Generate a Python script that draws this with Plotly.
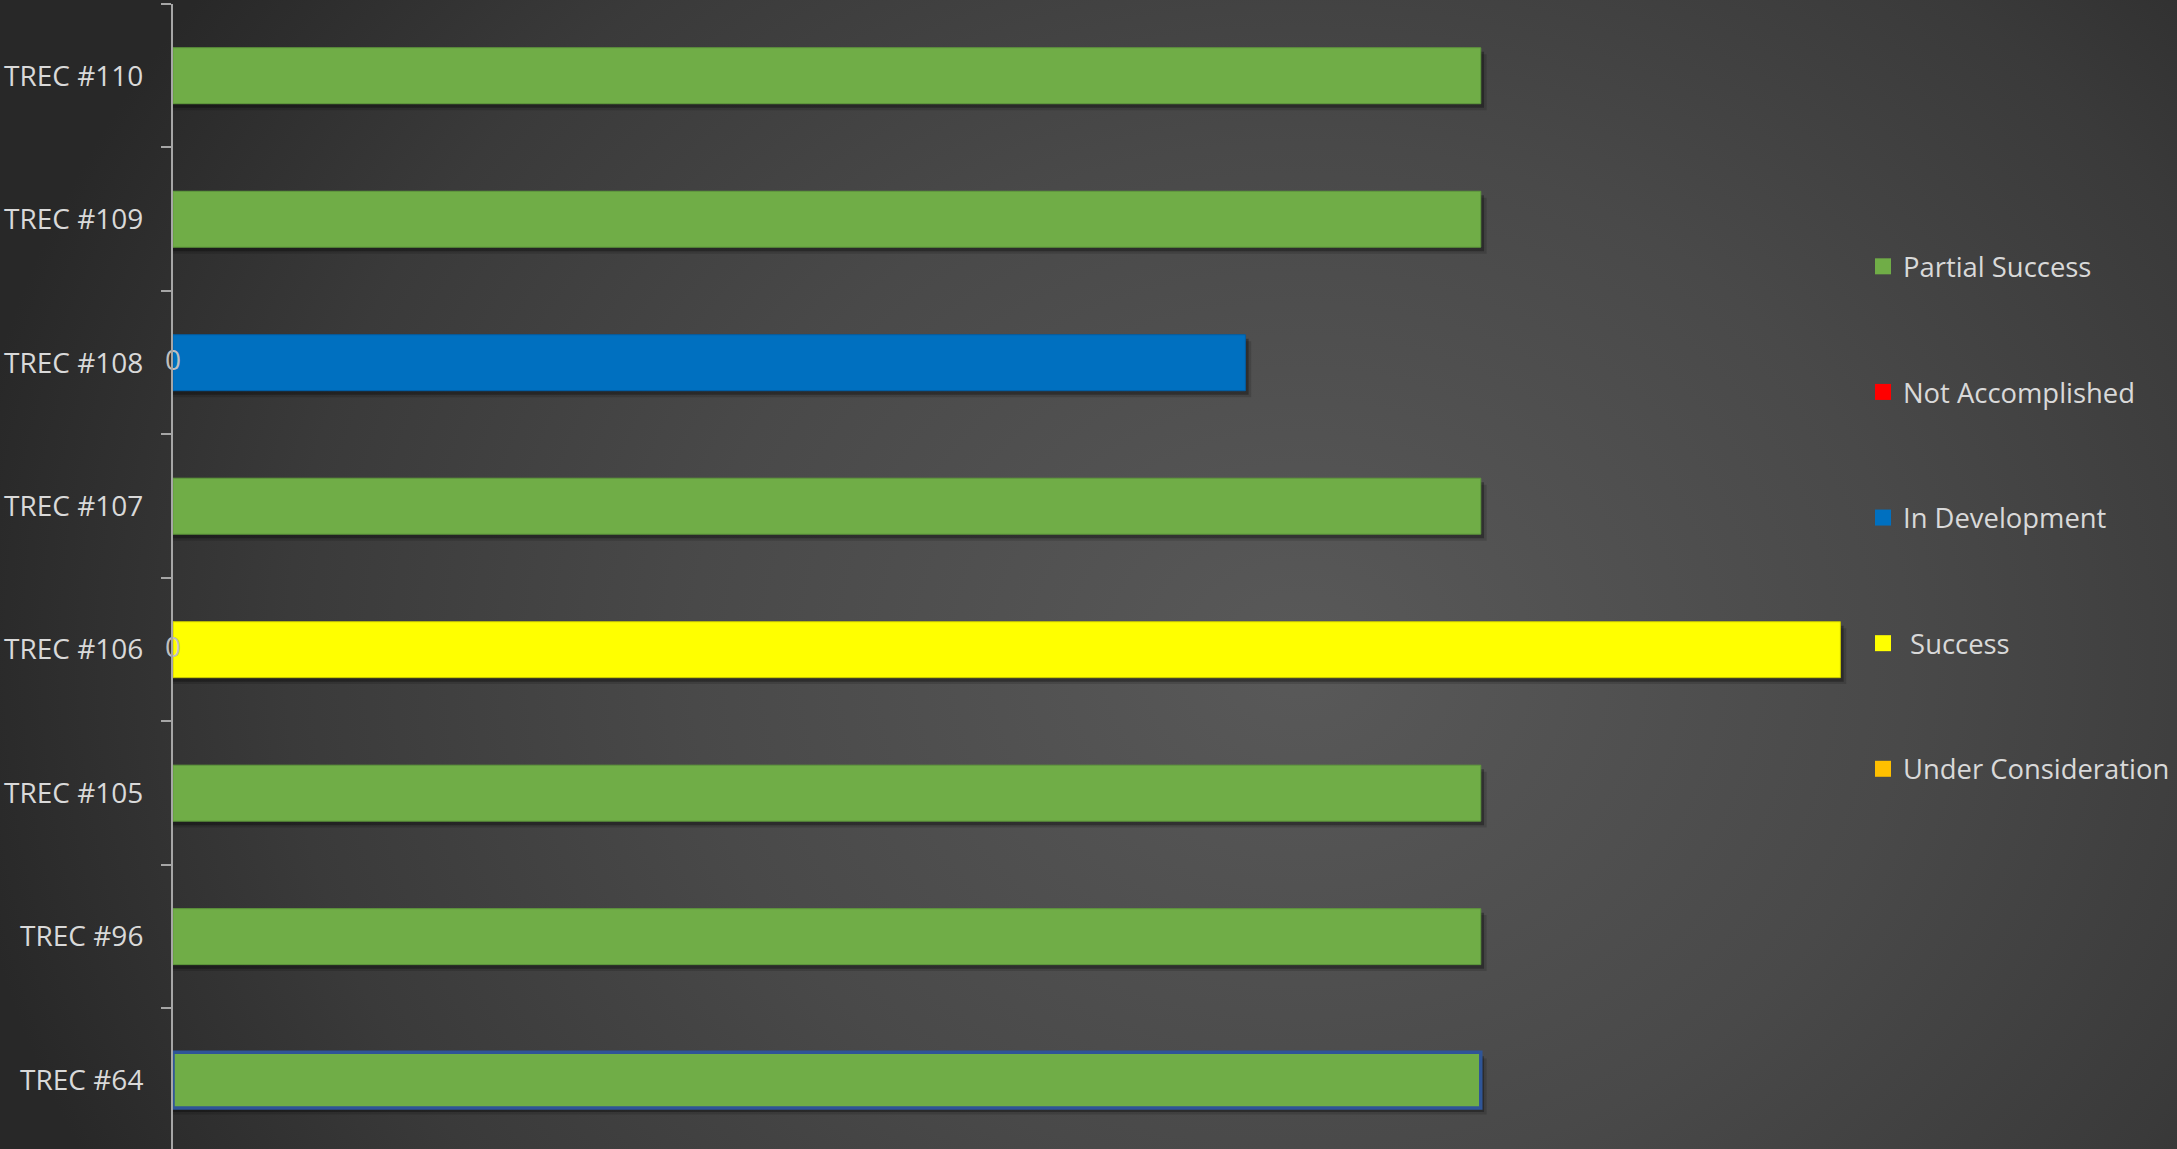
import base64
import plotly.graph_objects as go

# ---------------- data ----------------
categories = ["TREC #110", "TREC #109", "TREC #108", "TREC #107",
              "TREC #106", "TREC #105", "TREC #96", "TREC #64"]

partial_success = [100, 100, None, 100, None, 100, 100, 100]
not_accomplished = [None, None, 0, None, 0, None, None, None]
in_development = [None, None, 82, None, None, None, None, None]
success = [None, None, None, None, 127.5, None, None, None]
under_consideration = [None, None, None, None, None, None, None, None]

series_names = ["Partial Success", "Not Accomplished", "In Development",
                " Success", "Under Consideration"]
series_colors = ["#70ad47", "#ff0000", "#0070c0", "#ffff00", "#ffc000"]

# ---------------- layout constants ----------------
W, H = 2177, 1149
ML, MR, MT, MB = 173, 317, 4, 0
PW = W - ML - MR
PH = H - MT - MB
FONT = "Open Sans, Noto Sans, DejaVu Sans, sans-serif"
TXT = "#d9d9d9"
BAR_W = 0.39

svg = f'''<svg xmlns="http://www.w3.org/2000/svg" width="{W}" height="{H}" viewBox="0 0 {W} {H}" preserveAspectRatio="none">
<defs><radialGradient id="g" gradientUnits="userSpaceOnUse" cx="1300" cy="660" r="1350"
 gradientTransform="translate(1300 660) scale(1 0.85) translate(-1300 -660)">
<stop offset="0" stop-color="#595959"/>
<stop offset="0.45" stop-color="#494949"/>
<stop offset="0.75" stop-color="#3a3a3a"/>
<stop offset="1" stop-color="#282828"/>
</radialGradient></defs>
<rect width="{W}" height="{H}" fill="url(#g)"/></svg>'''
bg_uri = "data:image/svg+xml;base64," + base64.b64encode(svg.encode()).decode()

fig = go.Figure()

bar_series = [partial_success, in_development, success]

# soft drop shadows (style layers derived from the same values)
for shift, extra, alpha in [(0.045, 0.45, 0.14), (0.028, 0.25, 0.30)]:
    for vals in bar_series:
        fig.add_trace(go.Bar(
            y=categories, x=[None if v is None else v + extra for v in vals],
            orientation="h", width=BAR_W, offset=-BAR_W / 2 + shift,
            marker=dict(color=f"rgba(0,0,0,{alpha})", line=dict(width=0)),
            showlegend=False, hoverinfo="skip"))

# bars
green_line_colors = ["#5f9a3c"] * 7 + ["#2f5597"]
green_line_widths = [1] * 7 + [3.5]
bar_specs = [
    (partial_success, series_colors[0], dict(color=green_line_colors, width=green_line_widths)),
    (in_development, series_colors[2], dict(color="#005ea6", width=1)),
    (success, series_colors[3], dict(color="#c9c900", width=1)),
]
for vals, col, line in bar_specs:
    fig.add_trace(go.Bar(
        y=categories, x=vals, orientation="h", width=BAR_W,
        marker=dict(color=col, line=line), showlegend=False, hoverinfo="skip"))

# zero-value data labels
zero_y = [c for c, v in zip(categories, not_accomplished) if v is not None]
zero_x = [v for v in not_accomplished if v is not None]
fig.add_trace(go.Scatter(
    y=zero_y, x=zero_x, mode="text", text=[str(v) for v in zero_x],
    textposition="middle center", textfont=dict(family=FONT, size=28, color="#bfbfbf"),
    showlegend=False, hoverinfo="skip", cliponaxis=False))

# legend entries
for i, (name, col) in enumerate(zip(series_names, series_colors)):
    fig.add_trace(go.Scatter(
        x=[None], y=[None], mode="markers", name=name, legendgroup=f"g{i}",
        marker=dict(symbol="square", size=16, color=col), hoverinfo="skip"))

fig.update_layout(
    width=W, height=H,
    margin=dict(l=ML, r=MR, t=MT, b=MB, pad=0),
    paper_bgcolor="#2b2b2b", plot_bgcolor="rgba(0,0,0,0)",
    barmode="overlay",
    font=dict(family=FONT, size=28, color=TXT),
    showlegend=True,
    legend=dict(x=(1863 - ML) / PW, xanchor="left", y=1 - (242 - MT) / PH, yanchor="top",
                bgcolor="rgba(0,0,0,0)", borderwidth=0,
                font=dict(family=FONT, size=27.4, color=TXT),
                traceorder="grouped", tracegroupgap=87, itemclick=False),
    xaxis=dict(range=[0, 129], visible=False, fixedrange=True),
    yaxis=dict(categoryorder="array", categoryarray=categories, range=[7.48, -0.5],
               showline=True, linecolor="#a6a6a6", linewidth=2,
               ticks="outside", tickson="boundaries", ticklen=10, tickwidth=2,
               tickcolor="#a6a6a6", showgrid=False, zeroline=False,
               ticklabelstandoff=22, tickfont=dict(family=FONT, size=28, color=TXT),
               fixedrange=True),
    images=[dict(source=bg_uri, xref="paper", yref="paper",
                 x=-ML / PW, y=1 + MT / PH, sizex=W / PW, sizey=H / PH,
                 xanchor="left", yanchor="top", sizing="stretch", layer="below")],
)

fig.write_html("out.html")
